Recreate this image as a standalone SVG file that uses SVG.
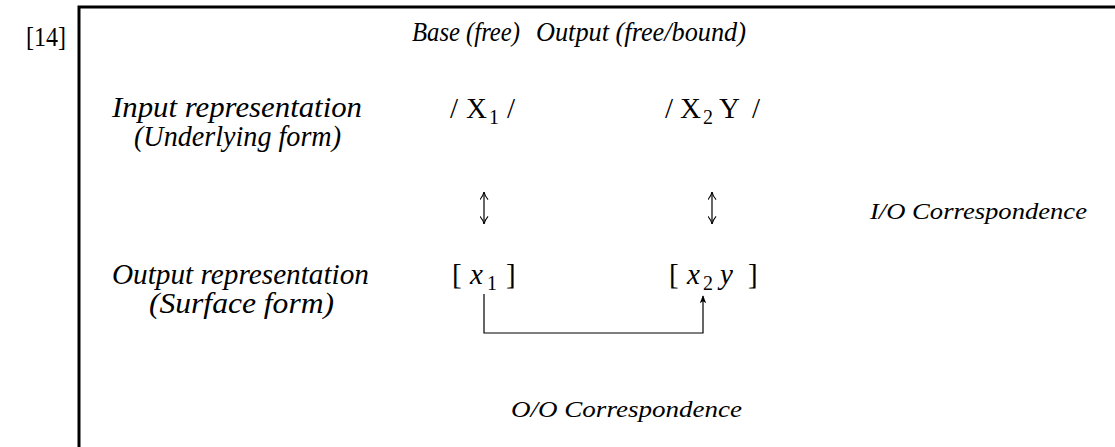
<svg xmlns="http://www.w3.org/2000/svg" width="1115" height="447" viewBox="0 0 1115 447">
<defs>
<style>
.t{font-family:"Liberation Serif","Times New Roman",serif;fill:#000}
.i{font-style:italic}
.lbl{font-size:29px}
.hdr{font-size:27px}
.cor{font-size:24px}
.m{font-size:29px}
.sub{font-size:20px}
.conn{stroke:#000;fill:none;stroke-width:1.2}
</style>
<marker id="ah" viewBox="0 0 10 10" refX="9" refY="5" markerWidth="8" markerHeight="8" orient="auto-start-reverse" markerUnits="userSpaceOnUse">
<path d="M0,1 L10,5 L0,9 L2.5,5 Z" fill="#000"/>
</marker>
<marker id="oa" viewBox="0 0 10 10" refX="9.5" refY="5" markerWidth="9" markerHeight="9" orient="auto-start-reverse" markerUnits="userSpaceOnUse">
<path d="M1,0.5 Q5,4 9.5,5 Q5,6 1,9.5" stroke="#000" stroke-width="1.2" fill="none"/>
</marker>
</defs>
<rect width="1115" height="447" fill="#fff"/>
<g id="frame">
<path d="M79,447 L79,7 L1115,7" stroke="#000" stroke-width="3" fill="none"/>
<text class="t" x="26" y="46" font-size="27" textLength="40" lengthAdjust="spacingAndGlyphs">[14]</text>
</g>
<g id="headers">
<text class="t i hdr" x="412" y="41" textLength="108" lengthAdjust="spacingAndGlyphs">Base (free)</text>
<text class="t i hdr" x="536" y="41" textLength="210" lengthAdjust="spacingAndGlyphs">Output (free/bound)</text>
</g>
<g id="input-label">
<text class="t i lbl" x="112" y="117" textLength="250" lengthAdjust="spacingAndGlyphs">Input representation</text>
<text class="t i lbl" x="134" y="146" textLength="207" lengthAdjust="spacingAndGlyphs">(Underlying form)</text>
</g>
<g id="output-label">
<text class="t i lbl" x="112" y="284" textLength="257" lengthAdjust="spacingAndGlyphs">Output representation</text>
<text class="t i lbl" x="149" y="313" textLength="185" lengthAdjust="spacingAndGlyphs">(Surface form)</text>
</g>
<g id="base-input">
<text class="t m" y="118"><tspan x="450">/</tspan><tspan x="466">X</tspan><tspan class="sub" x="489" dy="6">1</tspan><tspan x="507" dy="-6">/</tspan></text>
</g>
<g id="output-input">
<text class="t m" y="118"><tspan x="665">/</tspan><tspan x="680">X</tspan><tspan class="sub" x="703" dy="6">2</tspan><tspan x="719" dy="-6">Y</tspan><tspan x="752">/</tspan></text>
</g>
<g id="base-output">
<text class="t m" y="284"><tspan x="452">[</tspan><tspan x="470" font-style="italic">x</tspan><tspan class="sub" x="487" dy="6">1</tspan><tspan x="506" dy="-6">]</tspan></text>
</g>
<g id="output-output">
<text class="t m" y="284"><tspan x="669">[</tspan><tspan x="687" font-style="italic">x</tspan><tspan class="sub" x="703" dy="6">2</tspan><tspan x="720" dy="-6" font-style="italic">y</tspan><tspan x="748">]</tspan></text>
</g>
<g id="io-label">
<text class="t i cor" x="870" y="219" textLength="217" lengthAdjust="spacingAndGlyphs">I/O Correspondence</text>
</g>
<g id="oo-label">
<text class="t i cor" x="511" y="417" textLength="231" lengthAdjust="spacingAndGlyphs">O/O Correspondence</text>
</g>
<g id="connectors">
<line class="conn" x1="484" y1="192" x2="484" y2="224" marker-start="url(#oa)" marker-end="url(#oa)"/>
<line class="conn" x1="712" y1="192" x2="712" y2="224" marker-start="url(#oa)" marker-end="url(#oa)"/>
<path class="conn" d="M484,294 L484,333 L703,333 L703,296" marker-end="url(#ah)"/>
</g>
</svg>
